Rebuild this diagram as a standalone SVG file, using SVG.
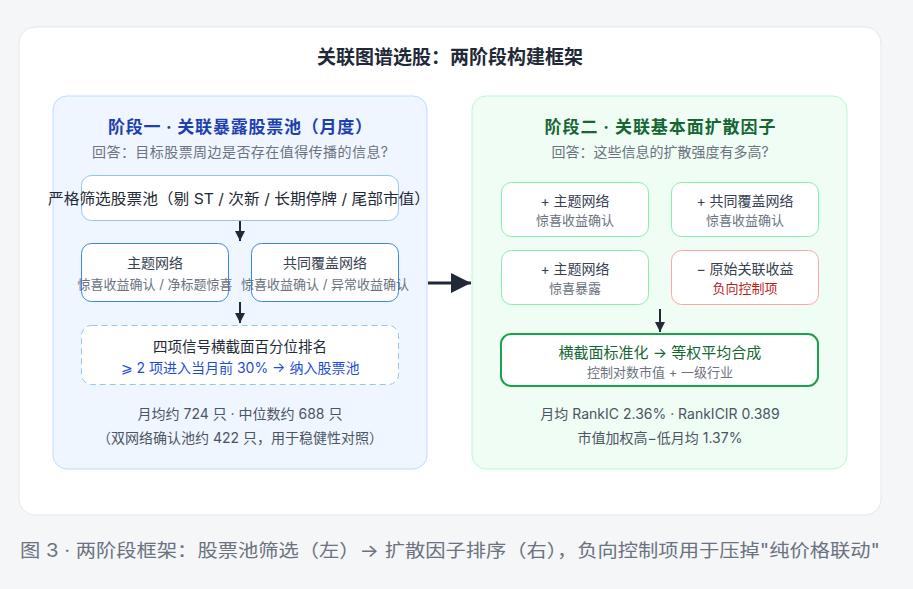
<svg xmlns="http://www.w3.org/2000/svg" width="913" height="589" viewBox="0 0 913 589">
<defs>
<marker id="ah" viewBox="0 0 10 10" refX="10" refY="5" markerWidth="10" markerHeight="10" markerUnits="userSpaceOnUse" orient="auto"><path d="M0,0 L10,5 L0,10 z" fill="#1f2937"/></marker>
<marker id="ahb" viewBox="0 0 10 10" refX="10" refY="5" markerWidth="20" markerHeight="20" markerUnits="userSpaceOnUse" orient="auto"><path d="M0,0 L10,5 L0,10 z" fill="#1f2937"/></marker>
</defs>
<style>
text{font-family:"Inter","Noto Sans CJK SC",sans-serif;text-anchor:middle}
.title{font-size:19px;font-weight:700;fill:#1f2937}
.h1{font-size:17px;font-weight:700;fill:#1e40af}
.h2{font-size:17px;font-weight:700;fill:#166534}
.sub{font-size:14px;fill:#6b7280}
.nt{font-size:14px;fill:#374151}
.ns{font-size:13px;fill:#6b7280}
.note{font-size:14px;fill:#4b5563}
.edge{stroke:#1f2937;stroke-width:2;fill:none}
</style>
<rect x="0" y="0" width="913" height="589" fill="#f5f6f8"/>
<rect x="19" y="27" width="862" height="488" rx="16" fill="#ffffff" stroke="#e5e7eb"/>
<text class="title" x="450" y="64">关联图谱选股：两阶段构建框架</text>

<g id="stage1">
<rect x="53" y="96" width="374" height="373" rx="14" fill="#eff6ff" stroke="#bfdbfe"/>
<text class="h1" x="240" y="133" textLength="264" lengthAdjust="spacing">阶段一 · 关联暴露股票池（月度）</text>
<text class="sub" x="240" y="157" textLength="296" lengthAdjust="spacing">回答：目标股票周边是否存在值得传播的信息?</text>
</g>
<g id="pool">
<rect x="81.5" y="175.5" width="317" height="45" rx="10" fill="#ffffff" stroke="#93c5fd"/>
<text x="239" y="204" textLength="382" lengthAdjust="spacingAndGlyphs" style="font-size:15px;fill:#1f2937">严格筛选股票池（剔 ST / 次新 / 长期停牌 / 尾部市值）</text>
</g>
<g id="theme">
<rect x="81.5" y="243.5" width="147" height="58" rx="10" fill="#ffffff" stroke="#3b82f6"/>
<text class="nt" x="155" y="268">主题网络</text>
<text class="ns" x="155" y="289">惊喜收益确认 / 净标题惊喜</text>
</g>
<g id="cover">
<rect x="251.5" y="243.5" width="147" height="58" rx="10" fill="#ffffff" stroke="#3b82f6"/>
<text class="nt" x="325" y="268">共同覆盖网络</text>
<text class="ns" x="325" y="289">惊喜收益确认 / 异常收益确认</text>
</g>
<g id="rank">
<rect x="81.5" y="325.5" width="317" height="59" rx="10" fill="#ffffff" stroke="#93c5fd" stroke-dasharray="6 4"/>
<text x="240" y="352" style="font-size:14.5px;fill:#1f2937">四项信号横截面百分位排名</text>
<text x="240" y="373" style="font-size:14px;fill:#1d4ed8">⩾ 2 项进入当月前 30% → 纳入股票池</text>
</g>
<g id="stats1">
<text class="note" x="240" y="419">月均约 724 只 · 中位数约 688 只</text>
<text class="note" x="240" y="443">（双网络确认池约 422 只，用于稳健性对照）</text>
</g>

<g id="stage2">
<rect x="472" y="96" width="375" height="373" rx="14" fill="#f0fdf4" stroke="#bbf7d0"/>
<text class="h2" x="660" y="133" textLength="231" lengthAdjust="spacing">阶段二 · 关联基本面扩散因子</text>
<text class="sub" x="660" y="157">回答：这些信息的扩散强度有多高?</text>
</g>
<g id="f1">
<rect x="501.5" y="182.5" width="147" height="54" rx="10" fill="#ffffff" stroke="#86efac"/>
<text class="nt" x="575" y="206">+  主题网络</text>
<text class="ns" x="575" y="225">惊喜收益确认</text>
</g>
<g id="f2">
<rect x="671.5" y="182.5" width="147" height="54" rx="10" fill="#ffffff" stroke="#86efac"/>
<text class="nt" x="745" y="206">+  共同覆盖网络</text>
<text class="ns" x="745" y="225">惊喜收益确认</text>
</g>
<g id="f3">
<rect x="501.5" y="250.5" width="147" height="54" rx="10" fill="#ffffff" stroke="#86efac"/>
<text class="nt" x="575" y="274">+  主题网络</text>
<text class="ns" x="575" y="293">惊喜暴露</text>
</g>
<g id="f4">
<rect x="671.5" y="250.5" width="147" height="54" rx="10" fill="#ffffff" stroke="#fca5a5"/>
<text class="nt" x="745" y="274">−  原始关联收益</text>
<text x="745" y="293" style="font-size:13px;fill:#b91c1c">负向控制项</text>
</g>
<g id="combine">
<rect x="501" y="334" width="317" height="52" rx="10" fill="#ffffff" stroke="#16a34a" stroke-width="2"/>
<text x="660" y="358" style="font-size:15px;fill:#166534">横截面标准化 → 等权平均合成</text>
<text class="ns" x="660" y="377">控制对数市值 + 一级行业</text>
</g>
<g id="stats2">
<text class="note" x="660" y="419">月均 RankIC 2.36% · RankICIR 0.389</text>
<text class="note" x="660" y="443">市值加权高−低月均 1.37%</text>
</g>

<g id="connectors">
<line class="edge" x1="240" y1="221" x2="240" y2="241" marker-end="url(#ah)"/>
<line class="edge" x1="240" y1="302" x2="240" y2="323" marker-end="url(#ah)"/>
<line class="edge" x1="660" y1="309" x2="660" y2="332" marker-end="url(#ah)"/>
<line x1="428" y1="283" x2="471" y2="283" stroke="#1f2937" stroke-width="3" marker-end="url(#ahb)"/>
</g>

<text x="20" y="557" textLength="860" lengthAdjust="spacingAndGlyphs" style="font-size:18px;fill:#6b7280;text-anchor:start">图 3 · 两阶段框架：股票池筛选（左）→ 扩散因子排序（右），负向控制项用于压掉"纯价格联动"</text>
</svg>
